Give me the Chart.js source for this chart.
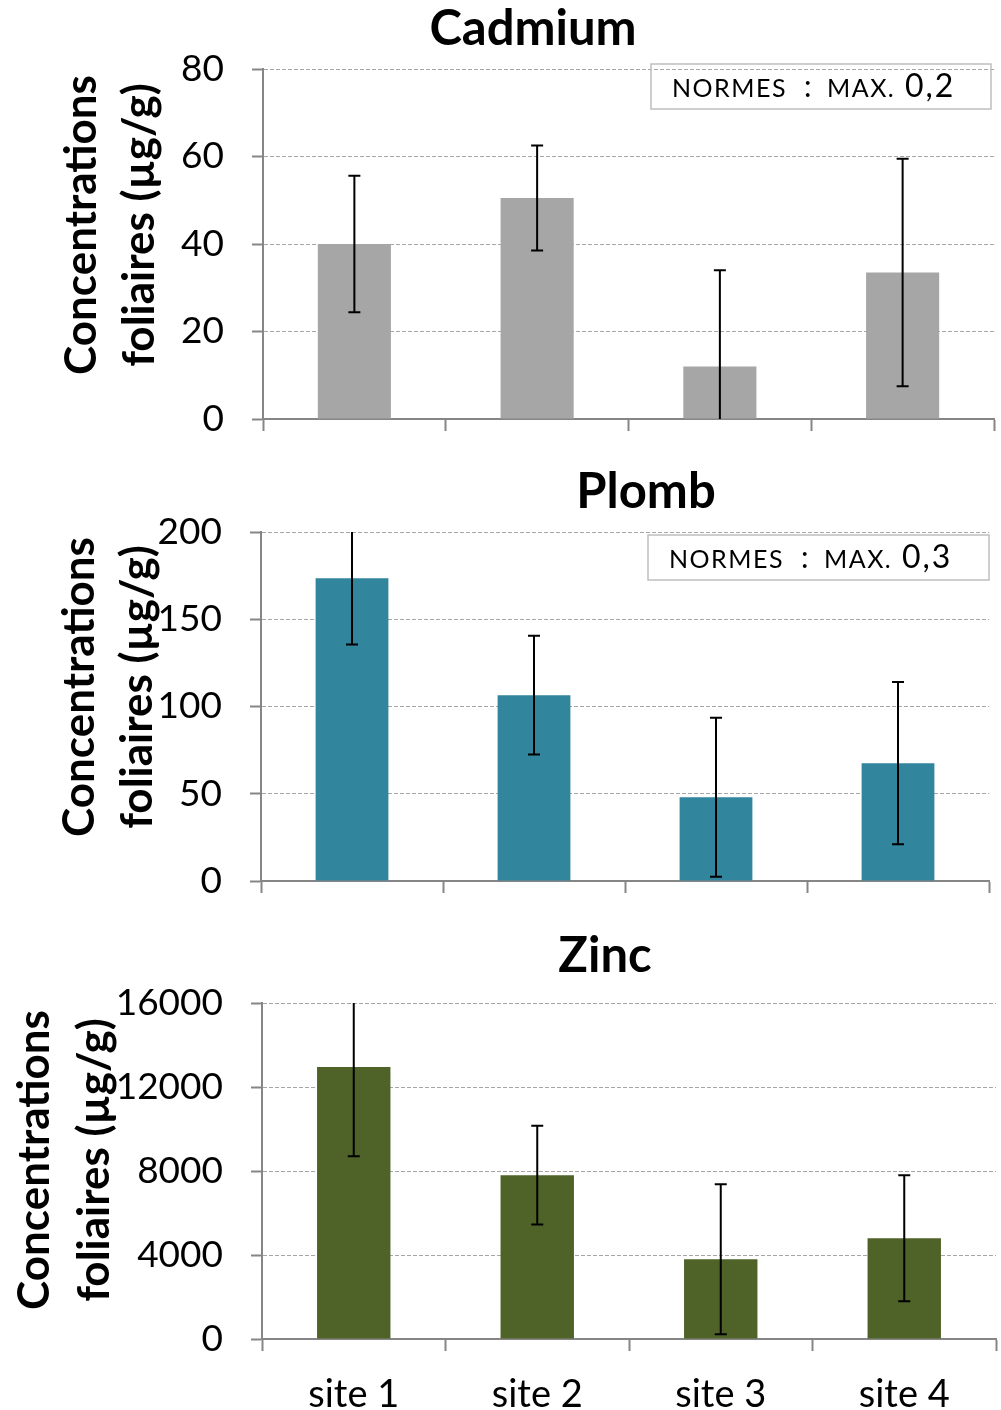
<!DOCTYPE html>
<html>
<head>
<meta charset="utf-8">
<script src="https://cdn.jsdelivr.net/npm/chart.js@4.4.1/dist/chart.umd.min.js"></script>
<style>
  body { margin: 0; background: #fff; }
  .wrap { position: relative; width: 1001px; height: 1410px; overflow: hidden; }
  canvas { position: absolute; left: 0; }
</style>
</head>
<body>
<div class="wrap">
  <canvas id="cadmium" width="1001" height="450" style="top:0"></canvas>
  <canvas id="plomb" width="1001" height="460" style="top:450px"></canvas>
  <canvas id="zinc" width="1001" height="500" style="top:910px"></canvas>
</div>
<script>
const sites = ['site 1', 'site 2', 'site 3', 'site 4'];

const cadmium = [40, 50.5, 12, 33.5];
const cadmiumErr = [15.6, 12, 22, 26];
const plomb = [173.5, 106.5, 48, 67.5];
const plombErr = [38, 34, 45.5, 46.5];
const zinc = [12950, 7800, 3800, 4800];
const zincErr = [4250, 2350, 3570, 3000];

const titles = ['Cadmium', 'Plomb', 'Zinc'];
const yMax = [80, 200, 16000];
const yStep = [20, 50, 4000];
const normes = ['0,2', '0,3', null];
const axisTitle = ['Concentrations', 'foliaires (µg/g)'];

const FONT = 'Lato';

// error bars, clipped to the plot area like excel does
const errorBars = {
  id: 'errorBars',
  afterDatasetsDraw(chart) {
    const ctx = chart.ctx;
    const area = chart.chartArea;
    const y = chart.scales.y;
    const ds = chart.data.datasets[0];
    const meta = chart.getDatasetMeta(0);
    ctx.save();
    ctx.beginPath();
    ctx.rect(area.left, area.top, area.right - area.left, area.bottom - area.top);
    ctx.clip();
    ctx.strokeStyle = '#000';
    ctx.lineWidth = 2;
    meta.data.forEach((bar, i) => {
      const top = y.getPixelForValue(ds.data[i] + ds.errors[i]);
      const bot = y.getPixelForValue(ds.data[i] - ds.errors[i]);
      ctx.beginPath();
      ctx.moveTo(bar.x, top); ctx.lineTo(bar.x, bot);
      ctx.moveTo(bar.x - 6, top); ctx.lineTo(bar.x + 6, top);
      ctx.moveTo(bar.x - 6, bot); ctx.lineTo(bar.x + 6, bot);
      ctx.stroke();
    });
    ctx.restore();
  }
};

// title, rotated axis title and the "normes" box
const deco = {
  id: 'deco',
  afterDraw(chart, args, o) {
    const ctx = chart.ctx;
    ctx.save();
    ctx.fillStyle = '#000';
    ctx.textAlign = 'center';
    ctx.textBaseline = 'alphabetic';
    ctx.font = 'bold 49px ' + FONT;
    ctx.fillText(o.title, o.titleX, o.titleY);

    ctx.font = 'bold 44px ' + FONT;
    ctx.textBaseline = 'middle';
    axisTitle.forEach((line, i) => {
      ctx.save();
      ctx.translate(o.axisX[i], o.axisY);
      ctx.rotate(-Math.PI / 2);
      ctx.fillText(line, 0, 0);
      ctx.restore();
    });

    if (o.norme) {
      const [bx, by, bw, bh] = o.box;
      ctx.strokeStyle = '#bfbfbf';
      ctx.lineWidth = 1.5;
      ctx.strokeRect(bx, by, bw, bh);
      ctx.textAlign = 'left';
      ctx.textBaseline = 'alphabetic';
      ctx.font = '25px ' + FONT;
      ctx.letterSpacing = '1.5px';
      ctx.fillText('NORMES', bx + 21, by + 33);
      ctx.font = '30px ' + FONT;
      ctx.fillText(':', bx + 153, by + 33);
      ctx.font = '25px ' + FONT;
      ctx.fillText('MAX.', bx + 176, by + 33);
      ctx.font = '32px ' + FONT;
      ctx.letterSpacing = '2px';
      ctx.fillText(o.norme, bx + 254, by + 33);
    }
    ctx.restore();
  }
};

function makeChart(id, k, values, errors, color, lay) {
  return new Chart(document.getElementById(id), {
    type: 'bar',
    data: {
      labels: sites,
      datasets: [{
        data: values,
        errors: errors,
        backgroundColor: color,
        borderWidth: 0,
        barPercentage: 0.4,
        categoryPercentage: 1
      }]
    },
    plugins: [errorBars, deco],
    options: {
      responsive: false,
      animation: false,
      layout: { padding: { top: lay.top, right: lay.right, left: 0, bottom: 0 } },
      plugins: {
        legend: { display: false },
        tooltip: { enabled: false },
        deco: {
          title: titles[k], titleX: lay.titleX, titleY: lay.titleY,
          axisX: lay.axisX, axisY: lay.axisY,
          norme: normes[k], box: lay.box
        }
      },
      scales: {
        x: {
          afterFit: (s) => { s.height = lay.xHeight; s.paddingLeft = 0; s.paddingRight = 0; },
          grid: { drawOnChartArea: false, tickLength: 12, tickColor: '#868686', tickWidth: 2 },
          border: { color: '#868686', width: 2 },
          ticks: {
            display: lay.showLabels,
            color: '#000',
            padding: 21,
            font: { family: FONT, size: 38 }
          }
        },
        y: {
          min: 0,
          max: yMax[k],
          afterFit: (s) => { s.width = lay.left; s.paddingTop = 0; s.paddingBottom = 0; },
          grid: {
            color: (c) => c.tick && c.tick.value === 0 ? 'rgba(0,0,0,0)' : '#a6a6a6',
            lineWidth: 1,
            tickLength: 11,
            tickColor: '#868686',
            tickWidth: 2
          },
          border: { color: '#868686', width: 2, dash: [4, 2] },
          ticks: {
            stepSize: yStep[k],
            color: '#000',
            padding: 28,
            font: { family: FONT, size: 37 },
            callback: (v) => String(v)
          }
        }
      }
    }
  });
}

makeChart('cadmium', 0, cadmium, cadmiumErr, '#a6a6a6', {
  top: 69, right: 7, left: 263, xHeight: 31, showLabels: false,
  titleX: 533, titleY: 45, axisX: [82, 140], axisY: 225, box: [651, 64, 340, 45]
});
makeChart('plomb', 1, plomb, plombErr, '#31859c', {
  top: 82, right: 12, left: 261, xHeight: 29, showLabels: false,
  titleX: 646, titleY: 58, axisX: [80, 138], axisY: 237, box: [648, 85, 341, 45]
});
makeChart('zinc', 2, zinc, zincErr, '#4f6228', {
  top: 93, right: 5, left: 262, xHeight: 71, showLabels: true,
  titleX: 605, titleY: 62, axisX: [35, 95], axisY: 250, box: null
});
</script>
</body>
</html>
